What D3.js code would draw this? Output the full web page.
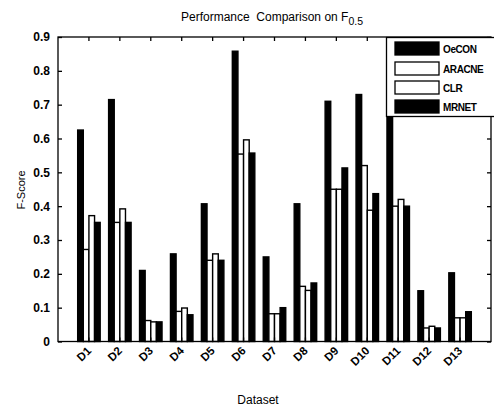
<!DOCTYPE html>
<html><head><meta charset="utf-8">
<script src="https://cdn.jsdelivr.net/npm/d3@7"></script>
<style>body{margin:0;background:#fff}svg{display:block;font-family:"Liberation Sans",Arial,sans-serif}</style>
</head><body><svg id="c" width="494" height="410"></svg>
<script>
const categories = ["D1","D2","D3","D4","D5","D6","D7","D8","D9","D10","D11","D12","D13"];
const seriesNames = ["OeCON","ARACNE","CLR","MRNET"];
const oecon  = [0.625,0.715,0.21,0.259,0.407,0.858,0.25,0.407,0.71,0.73,0.68,0.15,0.203];
const aracne = [0.272,0.352,0.062,0.089,0.24,0.554,0.082,0.163,0.45,0.52,0.40,0.04,0.07];
const clr    = [0.372,0.392,0.058,0.099,0.259,0.596,0.082,0.151,0.45,0.388,0.42,0.045,0.07];
const mrnet  = [0.352,0.352,0.058,0.079,0.24,0.557,0.10,0.173,0.513,0.437,0.40,0.04,0.088];
const yTicks = [0,0.1,0.2,0.3,0.4,0.5,0.6,0.7,0.8,0.9];

const values = [oecon, aracne, clr, mrnet];
const fills = ["#000","#fff","#fff","#000"];

const svg = d3.select("#c");
const L = 58, R = 491, T = 37, B = 341.5;
const x = d3.scaleLinear().domain([0, 14]).range([L, R]);
const x0 = d3.scaleBand().domain(categories).range([x(0.5), x(13.5)]).padding(0);
const x1 = d3.scaleBand().domain(seriesNames).range([0, x0.bandwidth()]).paddingInner(0).paddingOuter(0.75);
const y = d3.scaleLinear().domain([0, 0.9]).range([B, T]);

// bars
const g = svg.append("g");
categories.forEach((c, i) => {
  seriesNames.forEach((s, j) => {
    g.append("rect")
      .attr("x", x0(c) + x1(s))
      .attr("y", y(values[j][i]))
      .attr("width", x1.bandwidth())
      .attr("height", y(0) - y(values[j][i]))
      .attr("fill", fills[j])
      .attr("stroke", "#000")
      .attr("stroke-width", 1.4);
  });
});

// axes frame
svg.append("rect").attr("x", L).attr("y", T).attr("width", R - L).attr("height", B - T)
  .attr("fill", "none").attr("stroke", "#000").attr("stroke-width", 1.3);

const fmt = v => v === 0 ? "0" : d3.format(".1f")(v);
const yl = svg.append("g").attr("transform", `translate(${L},0)`)
  .call(d3.axisLeft(y).tickValues(yTicks).tickSize(-4).tickFormat(fmt).tickPadding(8));
const yr = svg.append("g").attr("transform", `translate(${R},0)`)
  .call(d3.axisRight(y).tickValues(yTicks).tickSize(-4).tickFormat(""));
const xt = svg.append("g").attr("transform", `translate(0,${T})`)
  .call(d3.axisTop(x0).tickSize(-4).tickFormat(""));
const xb = svg.append("g").attr("transform", `translate(0,${B})`)
  .call(d3.axisBottom(x0).tickSize(-4).tickPadding(0));
[yl, yr, xt, xb].forEach(a => { a.select(".domain").remove(); a.selectAll("line").attr("stroke", "#000").attr("stroke-width", 1.3); });
yl.selectAll("text").attr("font-size", 12).attr("font-weight", "bold").attr("fill", "#000")
  .attr("font-family", "Liberation Sans, Arial, sans-serif");
xb.selectAll("text")
  .attr("font-size", 11.5).attr("font-weight", "bold").attr("fill", "#000")
  .attr("font-family", "Liberation Sans, Arial, sans-serif")
  .attr("text-anchor", "end").attr("dy", null)
  .attr("transform", "translate(3,10) rotate(-45)");

// title
const title = svg.append("text").attr("x", 272).attr("y", 21).attr("text-anchor", "middle")
  .attr("font-size", 12).attr("fill", "#000").style("white-space", "pre");
title.append("tspan").text("Performance  Comparison on F");
title.append("tspan").attr("dy", 4).attr("font-size", 10.5).text("0.5");

// axis labels
svg.append("text").attr("transform", "translate(25,190) rotate(-90)").attr("text-anchor", "middle")
  .attr("font-size", 11).attr("fill", "#000").text("F-Score");
svg.append("text").attr("x", 258).attr("y", 404).attr("text-anchor", "middle")
  .attr("font-size", 12).attr("fill", "#000").text("Dataset");

// legend
const lg = svg.append("g");
lg.append("rect").attr("x", 386.5).attr("y", 37.5).attr("width", 120).attr("height", 79)
  .attr("fill", "#fff").attr("stroke", "#000").attr("stroke-width", 1.3);
const rowsY = [42, 62, 81, 100];
seriesNames.forEach((s, j) => {
  lg.append("rect").attr("x", 395).attr("y", rowsY[j]).attr("width", 44).attr("height", 13)
    .attr("fill", fills[j]).attr("stroke", "#000").attr("stroke-width", 1.3);
  lg.append("text").attr("x", 443).attr("y", rowsY[j] + 10.5).attr("font-size", 10)
    .attr("font-weight", "bold").attr("letter-spacing", -0.4).attr("fill", "#000").text(s);
});
</script></body></html>
